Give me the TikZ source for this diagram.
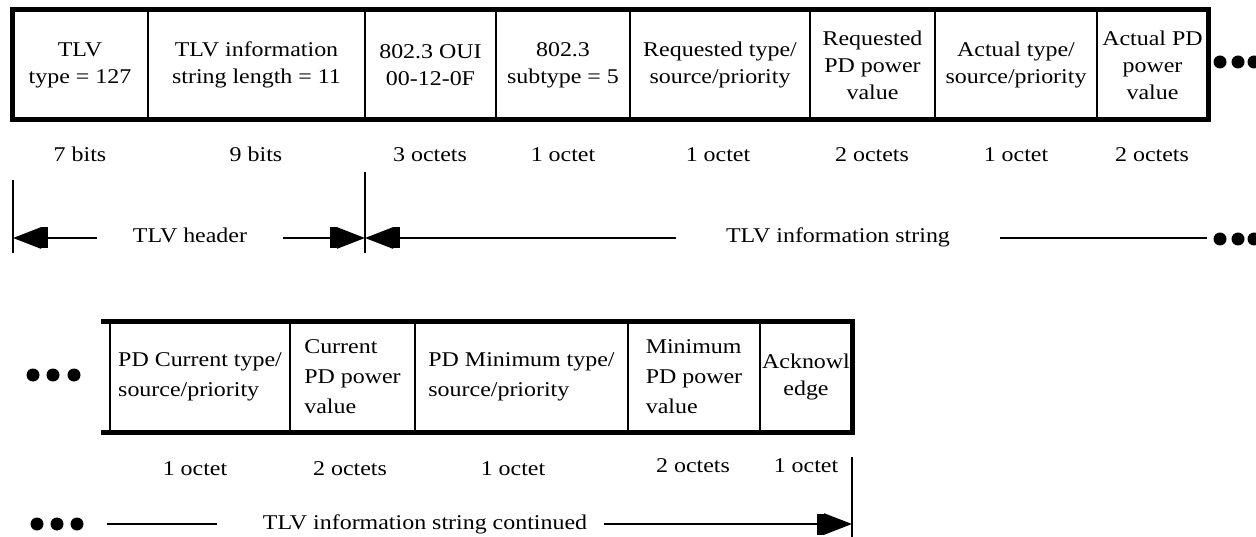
\documentclass[tikz,border=0pt]{standalone}
\usepackage{fontspec}
\setmainfont{Liberation Serif}[FakeStretch=1.14]
\usetikzlibrary{arrows.meta}

\tikzset{
  field/.style={draw, rectangle, line width=2.5pt, inner sep=0pt, outer sep=0pt,
    minimum height=110pt, align=center, font=\fontsize{21}{27}\selectfont},
  field2/.style={field, align=left, font=\fontsize{21}{30}\selectfont},
  frame/.style={line width=5pt},
  size/.style={inner sep=0pt, text height=14pt, text depth=4pt,
    font=\fontsize{21}{27}\selectfont},
  dimline/.style={line width=2.5pt},
  dimarrow/.style={line width=2.5pt,
    -{Rectangle[length=7pt,width=21pt]Triangle[length=28pt,width=21pt]}},
  tick/.style={line width=2.5pt},
  dot/.style={circle, fill=black, inner sep=0pt, minimum size=13pt},
}

\begin{document}
\begin{tikzpicture}[x=1pt, y=-1pt]
  \useasboundingbox (0,0) rectangle (1256,537);

  % first row of fields
  \node[field, minimum width=136pt] (f1) at (80,65) {TLV\\type = 127};
  \node[field, minimum width=217pt] (f2) at (256.5,65) {TLV information\\string length = 11};
  \node[field, minimum width=131pt] (f3) at (430.5,65) {802.3 OUI\\00-12-0F};
  \node[field, minimum width=134pt] (f4) at (563,65) {802.3\\subtype = 5};
  \node[field, minimum width=180pt] (f5) at (720,65) {Requested type/\\source/priority};
  \node[field, minimum width=125pt] (f6) at (872.5,65) {Requested\\PD power\\value};
  \node[field, minimum width=162pt] (f7) at (1016,65) {Actual type/\\source/priority};
  \node[field, minimum width=111pt] (f8) at (1152.5,65) {Actual PD\\power\\value};
  \draw[frame] (f1.north west) rectangle (f8.south east);
  \foreach \i/\x in {1/1220,2/1238,3/1254}
    \node[dot] (td\i) at (\x,62) {};

  \node[size] (s1) at (80,157) {7 bits};
  \node[size] (s2) at (256,157) {9 bits};
  \node[size] (s3) at (430,157) {3 octets};
  \node[size] (s4) at (563,157) {1 octet};
  \node[size] (s5) at (718,157) {1 octet};
  \node[size] (s6) at (872,157) {2 octets};
  \node[size] (s7) at (1016,157) {1 octet};
  \node[size] (s8) at (1152,157) {2 octets};

  % header / information string
  \coordinate (tkA) at (13,180);
  \coordinate (tkAb) at (13,253);
  \coordinate (tkB) at (365,172);
  \coordinate (tkBb) at (365,253);
  \draw[tick] (tkA) -- (tkAb);
  \draw[tick] (tkB) -- (tkBb);
  \coordinate (hL) at (13,238);
  \coordinate (hR) at (365,238);
  \node[size, inner xsep=36pt] (hdr) at (190,238) {TLV header};
  \draw[dimarrow] (hdr.west) -- (hL);
  \draw[dimarrow] (hdr.east) -- (hR);
  \node[size, inner xsep=50pt] (inf) at (838,238) {TLV information string};
  \draw[dimarrow] (inf.west) -- (hR);
  \coordinate (infE) at (1207,238);
  \draw[dimline] (inf.east) -- (infE);
  \foreach \i/\x in {1/1220,2/1238,3/1254}
    \node[dot] (md\i) at (\x,239) {};

  % second row of fields
  \foreach \i/\x in {1/33,2/53,3/74}
    \node[dot] (ld\i) at (\x,375) {};
  \node[field2, minimum width=180pt] (g1) at (200,377) {PD Current type/\\source/priority};
  \node[field2, minimum width=125pt] (g2) at (352.5,377) {Current\\PD power\\value};
  \node[field2, minimum width=213pt] (g3) at (521.5,377) {PD Minimum type/\\source/priority};
  \node[field2, minimum width=132pt] (g4) at (694,377) {Minimum\\PD power\\value};
  \node[field, minimum width=92pt] (g5) at (806,377) {Acknowl\\edge};
  \coordinate (r2t) at (101,322);
  \coordinate (r2b) at (101,432);
  \draw[frame] (r2t) -- (g5.north east) -- (g5.south east) -- (r2b);

  \node[size] (u1) at (195,470) {1 octet};
  \node[size] (u2) at (350,470) {2 octets};
  \node[size] (u3) at (513,470) {1 octet};
  \node[size] (u4) at (693,467) {2 octets};
  \node[size] (u5) at (806,467) {1 octet};

  % continued string
  \foreach \i/\x in {1/37,2/57,3/77}
    \node[dot] (bd\i) at (\x,524) {};
  \coordinate (cA) at (107,524);
  \coordinate (cB) at (217,524);
  \draw[dimline] (cA) -- (cB);
  \node[size, inner xsep=17pt] (cont) at (425,524) {TLV information string continued};
  \coordinate (tkC) at (852,457);
  \coordinate (tkCb) at (852,537);
  \draw[tick] (tkC) -- (tkCb);
  \coordinate (cE) at (852,524);
  \draw[dimarrow] (cont.east) -- (cE);
\end{tikzpicture}
\end{document}
